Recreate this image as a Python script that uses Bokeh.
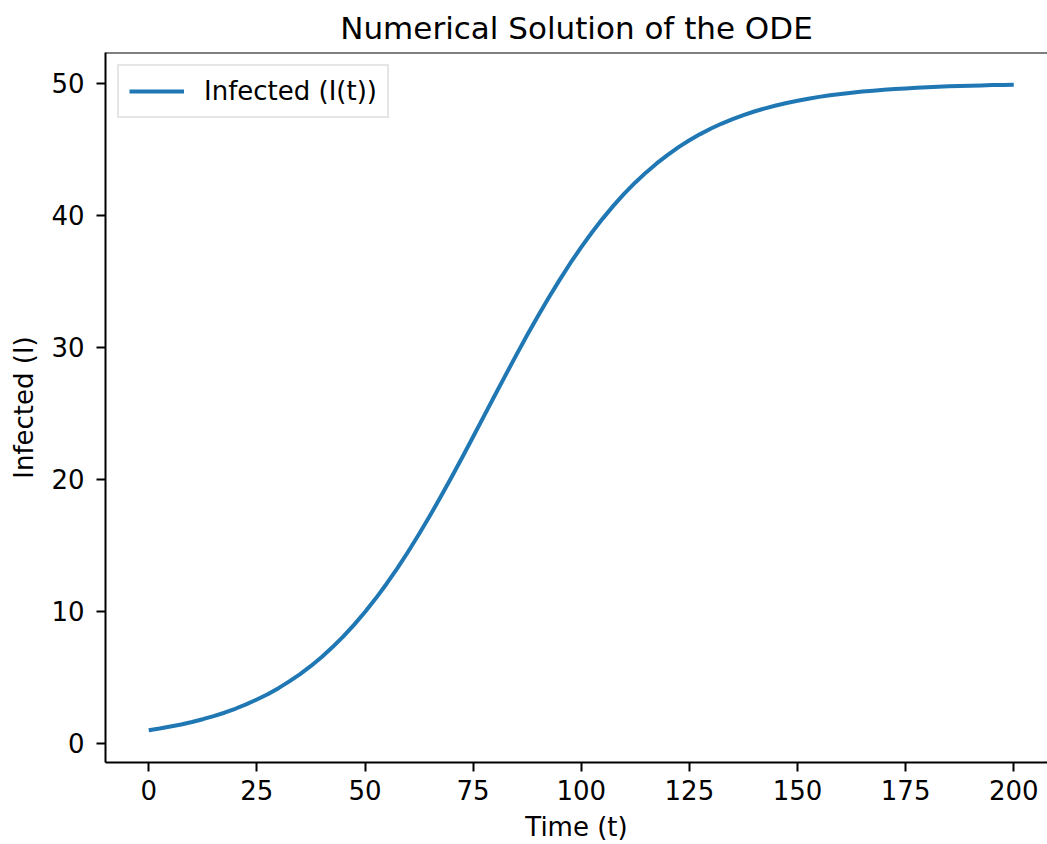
from bokeh.plotting import figure
from bokeh.models import Range1d, FixedTicker, Span, Legend, LegendItem
from bokeh.embed import file_html
from bokeh.resources import INLINE

# Numerical solution of the infection ODE, I(t), sampled every 2.5 time units
time_t = [0, 2.5, 5, 7.5, 10, 12.5, 15, 17.5, 20, 22.5, 25, 27.5, 30, 32.5,
          35, 37.5, 40, 42.5, 45, 47.5, 50, 52.5, 55, 57.5, 60, 62.5, 65,
          67.5, 70, 72.5, 75, 77.5, 80, 82.5, 85, 87.5, 90, 92.5, 95, 97.5,
          100, 102.5, 105, 107.5, 110, 112.5, 115, 117.5, 120, 122.5, 125,
          127.5, 130, 132.5, 135, 137.5, 140, 142.5, 145, 147.5, 150, 152.5,
          155, 157.5, 160, 162.5, 165, 167.5, 170, 172.5, 175, 177.5, 180,
          182.5, 185, 187.5, 190, 192.5, 195, 197.5, 200]
infected = [1.00, 1.13, 1.28, 1.44, 1.63, 1.84, 2.07, 2.33, 2.63, 2.96, 3.33,
            3.73, 4.19, 4.70, 5.26, 5.87, 6.55, 7.30, 8.11, 9.00, 9.96, 10.99,
            12.10, 13.28, 14.54, 15.86, 17.24, 18.68, 20.16, 21.68, 23.23,
            24.79, 26.35, 27.90, 29.43, 30.93, 32.38, 33.77, 35.11, 36.39,
            37.59, 38.72, 39.77, 40.75, 41.66, 42.49, 43.25, 43.95, 44.58,
            45.16, 45.68, 46.15, 46.57, 46.95, 47.29, 47.59, 47.86, 48.10,
            48.32, 48.51, 48.68, 48.83, 48.97, 49.09, 49.19, 49.28, 49.37,
            49.44, 49.51, 49.56, 49.61, 49.66, 49.70, 49.73, 49.77, 49.79,
            49.82, 49.84, 49.86, 49.87, 49.89]

x_ticks = [0, 25, 50, 75, 100, 125, 150, 175, 200]
y_ticks = [0, 10, 20, 30, 40, 50]

FONT = "DejaVu Sans"
LINE_BLUE = "#1f77b4"

y_top = 52.33
p = figure(
    width=1047, height=844,
    output_backend="svg", toolbar_location=None,
    x_range=Range1d(-10, 207.8), y_range=Range1d(-1.44, y_top),
    min_border_left=105, min_border_right=0,
    min_border_top=52, min_border_bottom=82,
    background_fill_color="white", border_fill_color="white",
)

p.title.text = "Numerical Solution of the ODE"
p.title.text_font = FONT
p.title.text_font_size = "31px"
p.title.text_font_style = "normal"
p.title.text_color = "black"
p.title.align = "center"
p.title.offset = 4
p.title.standoff = 14

p.outline_line_color = None
p.grid.visible = False

for ax in (p.xaxis[0], p.yaxis[0]):
    ax.major_label_text_font = FONT
    ax.major_label_text_font_size = "26px"
    ax.major_label_text_color = "black"
    ax.axis_label_text_font = FONT
    ax.axis_label_text_font_size = "26px"
    ax.axis_label_text_font_style = "normal"
    ax.axis_label_text_color = "black"
    ax.axis_line_color = "black"
    ax.axis_line_width = 2
    ax.major_tick_line_color = "black"
    ax.major_tick_line_width = 2
    ax.major_tick_out = 9
    ax.major_tick_in = 0
    ax.minor_tick_out = 0
    ax.minor_tick_in = 0

p.xaxis[0].ticker = FixedTicker(ticks=x_ticks)
p.yaxis[0].ticker = FixedTicker(ticks=y_ticks)
p.xaxis[0].axis_label = "Time (t)"
p.yaxis[0].axis_label = "Infected (I)"
p.xaxis[0].major_label_standoff = 8
p.xaxis[0].axis_label_standoff = 9
p.yaxis[0].major_label_standoff = 12
p.yaxis[0].axis_label_standoff = 9

# top spine of the axes box
p.add_layout(Span(location=y_top, dimension="width",
                  line_color="black", line_width=2))

curve = p.line(time_t, infected, line_color=LINE_BLUE, line_width=4,
               line_join="round")

legend = Legend(items=[LegendItem(label="Infected (I(t))", renderers=[curve])],
                location="top_left")
legend.margin = 12
legend.padding = 10
legend.spacing = 0
legend.glyph_width = 55
legend.glyph_height = 28
legend.label_standoff = 20
legend.label_text_font = FONT
legend.label_text_font_size = "26px"
legend.label_text_color = "black"
legend.border_line_color = "#cccccc"
legend.border_line_width = 2
legend.background_fill_color = "white"
legend.background_fill_alpha = 0.8
p.add_layout(legend, "center")

open("out.html", "w").write(file_html(p, INLINE))
